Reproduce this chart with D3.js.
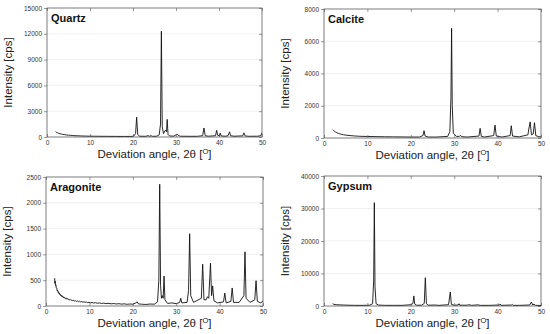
<!DOCTYPE html>
<html>
<head>
<meta charset="utf-8">
<script src="https://cdn.jsdelivr.net/npm/d3@7"></script>
<style>
  body { margin: 0; background: #fff; }
  svg { display: block; font-family: "Liberation Sans", Arial, sans-serif; }
  .tick text { font-size: 6.5px; fill: #333; }
  .tick line { stroke: #555; stroke-width: 0.6; }
</style>
</head>
<body>
<div id="chart"></div>
<script>
// XRD patterns: [2theta in degrees, intensity in cps]
const quartz = [
  [2.0,620],[2.2,540],[2.4,500],[2.6,450],[2.8,420],[3.0,380],[3.3,350],[3.6,310],[4.0,280],[4.5,240],[5.0,210],
  [5.5,190],[6.0,170],[6.5,150],[7.0,140],[8.0,120],[9.0,105],[10.0,95],[11,90],[12.0,85],[14.0,75],[16.0,70],
  [18.0,65],[19.8,70],[20.2,120],[20.6,400],[20.85,2300],[21.1,300],[21.5,90],[23.0,80],[23.5,160],[23.8,80],
  [24.2,150],[24.5,80],[25.5,90],[26.1,250],[26.4,1500],[26.6,12300],[26.8,1200],[27.1,400],[27.4,700],
  [27.6,800],[27.8,600],[27.95,2050],[28.15,300],[28.5,120],[29.5,100],[30.0,250],[30.2,350],[30.5,200],
  [31.0,90],[33,80],[35,80],[36.2,150],[36.5,1050],[36.8,150],[37.5,90],[39.2,150],[39.45,780],[39.7,200],
  [40.1,150],[40.3,450],[40.5,120],[41.5,90],[42.1,150],[42.45,600],[42.7,150],[43.5,90],[45.5,130],
  [45.8,480],[46.1,120],[47,80],[49,90],[49.7,150],[50.0,500]
];
const calcite = [
  [2.0,520],[2.2,460],[2.4,420],[2.6,380],[2.8,350],[3.0,320],[3.3,290],[3.6,260],[4.0,230],[4.5,200],[5.0,180],
  [6.0,150],[7.0,125],[8.0,110],[9.0,100],[10,95],[12,85],[14,75],[16,70],[18,65],[20,60],[22,60],[22.8,150],
  [23.05,450],[23.3,120],[24,60],[26,60],[28.5,100],[29.0,400],[29.25,2500],[29.4,6800],[29.55,2000],
  [29.8,300],[30.5,100],[31.2,100],[31.45,170],[31.7,80],[33,60],[35.7,120],[35.97,600],[36.25,100],[37,60],
  [39.1,150],[39.4,800],[39.7,120],[41,60],[42.9,150],[43.15,760],[43.45,120],[45,70],[47.0,200],[47.15,500],
  [47.5,1000],[47.8,200],[48.2,250],[48.5,950],[48.8,150],[49.5,80],[50,70]
];
// noisy background written out point by point
const aragonite = [
  [2.0,540],[2.05,440],[2.1,480],[2.2,400],[2.3,410],[2.35,350],[2.5,345],[2.55,300],[2.65,310],[2.8,262],
  [2.9,275],[3.0,238],[3.1,250],[3.2,218],[3.3,228],[3.4,200],[3.5,212],[3.6,186],[3.7,198],[3.8,176],
  [3.9,186],[4.0,162],[4.1,175],[4.2,155],[4.35,166],[4.5,142],[4.65,154],[4.8,132],[4.95,144],[5.1,124],
  [5.25,135],[5.4,116],[5.6,126],[5.8,108],[6.0,118],[6.2,100],[6.4,110],[6.6,94],[6.8,104],[7.0,88],
  [7.25,98],[7.5,83],[7.75,92],[8,78],[8.25,88],[8.5,73],[8.8,82],[9,69],[9.3,78],[9.6,65],[9.9,73],
  [10.2,61],[10.6,69],[11,57],[11.4,65],[11.8,53],[12.3,60],[12.8,49],[13.3,56],[13.8,46],[14.3,52],
  [15,42],[15.6,48],[16.2,39],[16.8,45],[17.4,36],[18,42],[18.7,33],[19.4,39],[20,34],[20.7,60],[21.0,80],
  [21.3,40],[22,35],[23,30],[24,38],[25,35],[25.7,80],[26.0,500],[26.2,2360],[26.4,400],[26.6,150],[26.8,200],
  [27.0,150],[27.2,580],[27.4,120],[28,50],[29,60],[30,45],[30.8,70],[31.05,150],[31.3,60],[32.5,70],
  [32.85,300],[33.1,1400],[33.35,200],[34,70],[35.8,150],[36.1,810],[36.4,120],[36.9,120],[37.2,180],
  [37.5,150],[37.9,830],[38.15,200],[38.4,390],[38.7,100],[39.5,60],[40.9,80],[41.2,250],[41.5,60],
  [42.6,90],[42.9,350],[43.2,70],[44.5,70],[45.6,200],[45.85,1050],[46.1,150],[47,70],[48.1,120],
  [48.4,490],[48.7,90],[49.5,60],[50,100]
];
const gypsum = [
  [2.0,700],[2.3,500],[2.8,400],[3.5,350],[4.5,300],[5.5,250],[7,200],[9,200],[10.5,250],[11.2,700],
  [11.45,8000],[11.6,31800],[11.75,6000],[12.0,700],[12.5,300],[14,200],[16,200],[18,200],[20.2,400],
  [20.5,900],[20.7,3100],[20.9,600],[21.3,250],[22.5,250],[23.1,800],[23.35,8700],[23.6,700],[24,250],
  [25.5,300],[26.5,200],[28.7,400],[29.1,4300],[29.35,500],[30,250],[30.9,300],[31.1,700],[31.3,250],
  [33,250],[33.4,400],[34,200],[35.5,350],[36,200],[38,200],[40.4,300],[40.6,600],[40.8,200],[43.2,300],
  [43.4,500],[43.6,200],[45,200],[47.4,300],[47.8,1200],[48.1,300],[48.4,600],[48.7,200],[50,150]
];

const angleTicks = [0, 10, 20, 30, 40, 50];
const quartzTicks = [0, 3000, 6000, 9000, 12000, 15000];
const calciteTicks = [0, 2000, 4000, 6000, 8000];
const aragoniteTicks = [0, 500, 1000, 1500, 2000, 2500];
const gypsumTicks = [0, 10000, 20000, 30000, 40000];

const panels = [
  { title: "Quartz", data: quartz, yTicks: quartzTicks, box: [47, 8, 262, 137] },
  { title: "Calcite", data: calcite, yTicks: calciteTicks, box: [324, 9, 541, 138] },
  { title: "Aragonite", data: aragonite, yTicks: aragoniteTicks, box: [46, 177, 263, 306] },
  { title: "Gypsum", data: gypsum, yTicks: gypsumTicks, box: [324, 176, 541, 306] }
];

const svg = d3.select("#chart").append("svg")
  .attr("width", 550)
  .attr("height", 334);

panels.forEach((p, i) => {
  const [x0, y0, x1, y1] = p.box;
  const x = d3.scaleLinear().domain([0, 50]).range([x0, x1]);
  const y = d3.scaleLinear().domain([0, d3.max(p.yTicks)]).range([y1, y0]);
  const g = svg.append("g");

  // faint gridlines
  g.append("g").selectAll("line")
    .data(p.yTicks.slice(1, -1))
    .enter().append("line")
    .attr("x1", x0).attr("x2", x1)
    .attr("y1", d => y(d)).attr("y2", d => y(d))
    .attr("stroke", "#e6e6e6")
    .attr("stroke-width", 0.6);

  g.append("clipPath").attr("id", "clip" + i)
    .append("rect")
    .attr("x", x0).attr("y", y0)
    .attr("width", x1 - x0).attr("height", y1 - y0);

  const line = d3.line().x(d => x(d[0])).y(d => y(d[1]));
  g.append("path")
    .datum(p.data)
    .attr("clip-path", `url(#clip${i})`)
    .attr("fill", "none")
    .attr("stroke", "#111")
    .attr("stroke-width", 0.9)
    .attr("stroke-linejoin", "round")
    .attr("d", line);

  // frame
  g.append("rect")
    .attr("x", x0).attr("y", y0)
    .attr("width", x1 - x0).attr("height", y1 - y0)
    .attr("fill", "none")
    .attr("stroke", "#444")
    .attr("stroke-width", 0.7);

  const left = g.append("g")
    .attr("transform", `translate(${x0},0)`)
    .call(d3.axisLeft(y).tickValues(p.yTicks).tickFormat(d3.format("d"))
      .tickSize(3).tickSizeOuter(0).tickPadding(2));
  left.select(".domain").remove();

  const bottom = g.append("g")
    .attr("transform", `translate(0,${y1})`)
    .call(d3.axisBottom(x).tickValues(angleTicks).tickFormat(d3.format("d"))
      .tickSize(-3).tickSizeOuter(0).tickPadding(3));
  bottom.select(".domain").remove();

  const right = g.append("g")
    .attr("transform", `translate(${x1},0)`)
    .call(d3.axisRight(y).tickValues(p.yTicks).tickSize(-3).tickFormat(""));
  right.select(".domain").remove();

  const top = g.append("g")
    .attr("transform", `translate(0,${y0})`)
    .call(d3.axisTop(x).tickValues(angleTicks).tickSize(-3).tickFormat(""));
  top.select(".domain").remove();

  // panel title
  g.append("text")
    .attr("x", x0 + 4)
    .attr("y", y0 + 14)
    .attr("font-size", 11)
    .attr("font-weight", "bold")
    .attr("fill", "#111")
    .text(p.title);

  // axis titles
  g.append("text")
    .attr("transform", `translate(${x0 - 35},${(y0 + y1) / 2}) rotate(-90)`)
    .attr("text-anchor", "middle")
    .attr("font-size", 11.5)
    .attr("fill", "#222")
    .text("Intensity [cps]");

  const xl = g.append("text")
    .attr("x", (x0 + x1) / 2)
    .attr("y", y1 + 21)
    .attr("text-anchor", "middle")
    .attr("font-size", 11.5)
    .attr("fill", "#222");
  xl.append("tspan").text("Deviation angle, 2\u03B8 [");
  xl.append("tspan").attr("font-size", 7.5).attr("dy", -4).text("O");
  xl.append("tspan").attr("dy", 4).text("]");
});
</script>
</body>
</html>
